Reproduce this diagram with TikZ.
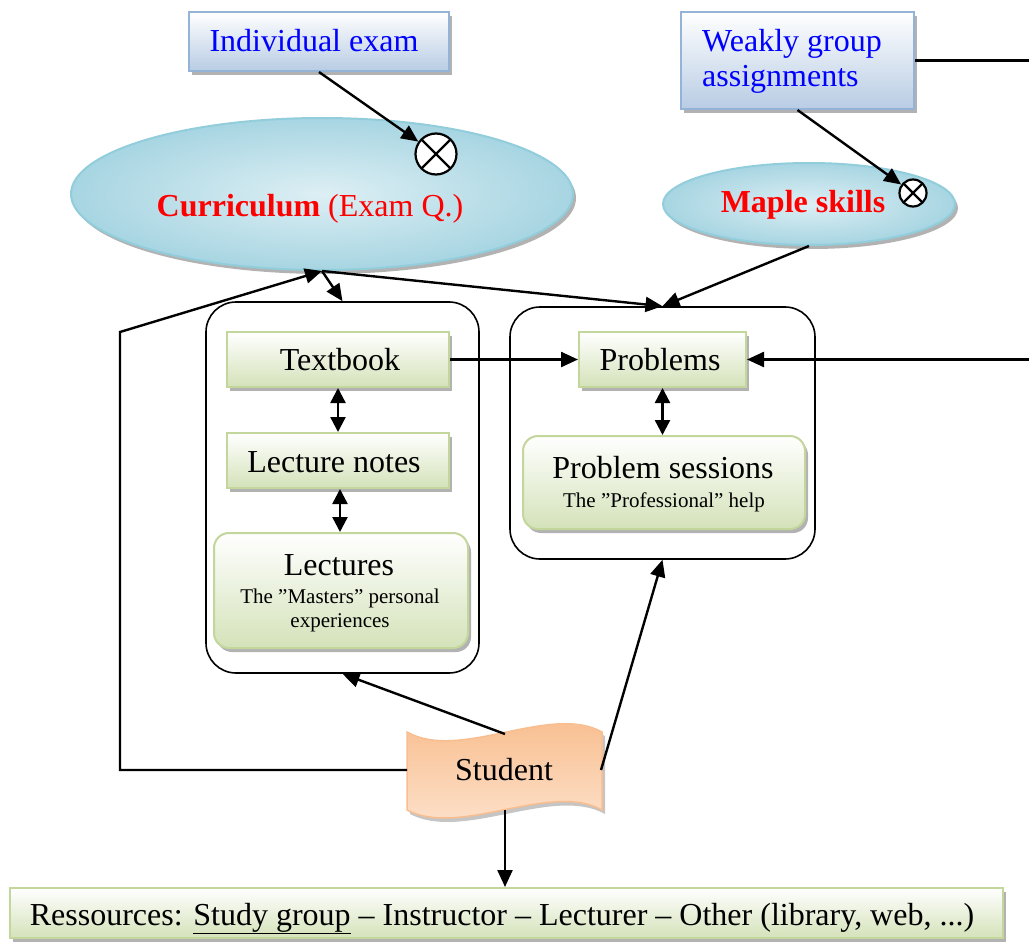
\documentclass[tikz,border=0pt]{standalone}
\usepackage{fontspec}
\setmainfont{Liberation Serif}
\usetikzlibrary{arrows.meta,shapes.geometric,shadows}
\definecolor{bluebd}{HTML}{95B3D7}
\definecolor{bluebot}{HTML}{B8CCE4}
\definecolor{ellbd}{HTML}{92CDDC}
\definecolor{ellin}{HTML}{DDEFF4}
\definecolor{ellout}{HTML}{A7D5E2}
\definecolor{grbd}{HTML}{C3D69B}
\definecolor{grbot}{HTML}{D4E2B9}
\definecolor{orbd}{HTML}{F9BE8F}
\definecolor{ortop}{HTML}{F8BA88}
\definecolor{orbot}{HTML}{FDE4D0}
\newcommand\fbig{\fontsize{32pt}{36pt}\selectfont}
\newcommand\fsmall{\fontsize{21pt}{24pt}\selectfont}
\begin{document}
\begin{tikzpicture}[x=1pt,y=-1pt,
  shad/.style={drop shadow={shadow xshift=3pt,shadow yshift=-4pt,fill=black!60,opacity=.5}},
  bluebox/.style={rectangle,draw=bluebd,line width=2pt,top color=white,bottom color=bluebot,shad,inner sep=0pt},
  greenbox/.style={rectangle,draw=grbd,line width=2pt,top color=white,bottom color=grbot,shad,inner sep=0pt},
  greenround/.style={greenbox,rounded corners=15pt},
  ell/.style={ellipse,draw=ellbd,line width=2pt,inner color=ellin,outer color=ellout,shad,inner sep=0pt},
  container/.style={rectangle,rounded corners=30pt,draw=black,line width=1.6pt,inner sep=0pt},
  txt/.style={inner sep=0pt,anchor=base,font=\fbig},
  stxt/.style={inner sep=0pt,anchor=base,font=\fsmall},
  orx/.style={circle,draw=black,line width=2.2pt,fill=white,inner sep=0pt,
    path picture={\draw[line width=2.2pt] (path picture bounding box.north west) -- (path picture bounding box.south east)
      (path picture bounding box.south west) -- (path picture bounding box.north east);}},
  conn/.style={line width=2.4pt,-{Triangle[length=17pt,width=15pt]}},
  dconn/.style={line width=2.4pt,{Triangle[length=15pt,width=15pt]}-{Triangle[length=15pt,width=15pt]}},
  plain/.style={line width=2.4pt}
]
\useasboundingbox[fill=white] (0,0) rectangle (1029,947);

% top boxes
\node[bluebox,minimum width=260pt,minimum height=59pt] (exam) at (319,41.5) {};
\node[txt,text=blue] (examt) at (314,52) {Individual exam};
\node[bluebox,minimum width=233pt,minimum height=97pt] (weak) at (797.5,60.5) {};
\node[txt,text=blue,anchor=base west] (weakt1) at (702,52) {Weakly group};
\node[txt,text=blue,anchor=base west] (weakt2) at (702,87) {assignments};

% ellipses
\node[ell,minimum width=502pt,minimum height=152pt] (curr) at (322,194) {};
\node[txt,text=red] (currt) at (310,217) {\textbf{Curriculum} (Exam Q.)};
\node[ell,minimum width=292pt,minimum height=82pt] (maple) at (809,204) {};
\node[txt,text=red] (maplet) at (803,212) {\textbf{Maple skills}};
\node[orx,minimum size=41pt] (ox1) at (436,154) {};
\node[orx,minimum size=27pt] (ox2) at (913,193) {};

% containers
\node[container,minimum width=273pt,minimum height=371pt] (leftc) at (342.5,487.5) {};
\node[container,minimum width=305pt,minimum height=252pt] (rightc) at (662.5,433) {};

% inner boxes
\node[greenbox,minimum width=222pt,minimum height=55pt] (textbook) at (338,359.5) {};
\node[txt] (textbookt) at (340,370) {Textbook};
\node[greenbox,minimum width=222pt,minimum height=55pt] (notes) at (338,460.5) {};
\node[txt] (notest) at (334,472) {Lecture notes};
\node[greenround,minimum width=254pt,minimum height=115pt] (lect) at (341,590.5) {};
\node[txt] (lectt) at (339,575) {Lectures};
\node[stxt] (lects1) at (340,603) {The ”Masters” personal};
\node[stxt] (lects2) at (340,627) {experiences};
\node[greenbox,minimum width=167pt,minimum height=55pt] (probs) at (662.5,359.5) {};
\node[txt] (probst) at (660,370) {Problems};
\node[greenround,minimum width=282pt,minimum height=93pt] (psess) at (664,482.5) {};
\node[txt] (psesst) at (663,478) {Problem sessions};
\node[stxt] (psesss) at (664,507) {The ”Professional” help};

% student
\path[draw=orbd,line width=1.5pt,top color=ortop,bottom color=orbot,
  drop shadow={shadow xshift=3pt,shadow yshift=-4pt,fill=black!50,opacity=.45}]
  (407,732) .. controls (460,762) and (550,703) .. (602,732) -- (602,810)
  .. controls (550,781) and (460,838) .. (407,810) -- cycle;
\node[txt] (student) at (504,780) {Student};
\coordinate (stop) at (505,734);
\coordinate (swest) at (407,770);
\coordinate (seast) at (601,770);
\coordinate (sbot) at (505,810);

% resources
\node[greenbox,minimum width=993pt,minimum height=50pt] (ress) at (506.5,913) {};
\node[txt] (resst) at (502,925) {Ressources: \underline{Study group} – Instructor – Lecturer – Other (library, web, ...)};

% connectors
\draw[conn] (exam.south) -- (ox1);
\draw[conn] (weak.south) -- (ox2);
\coordinate (redge1) at (1029,60.5);
\coordinate (redge2) at (1029,359.5);
\draw[plain] (weak.east) -- (redge1);
\draw[conn] (redge2) -- (probs.east);
\draw[conn] (curr.south) -- (leftc.north);
\draw[conn] (curr.south) -- (rightc.north);
\draw[conn] (maple.south) -- (rightc.north);
\draw[conn] (textbook.east) -- (probs.west);
\draw[dconn] (textbook.south) -- (notes.north);
\draw[dconn] ([xshift=2pt]notes.south) -- ([xshift=2pt]notes.south |- lect.north);
\draw[dconn] (probs.south) -- (probs.south |- psess.north);
\coordinate (lc1) at (120,770);
\coordinate (lc2) at (120,332);
\draw[conn] (swest) -- (lc1) -- (lc2) -- (curr.south);
\draw[conn] (stop) -- (leftc.south);
\draw[conn] (seast) -- (rightc.south);
\draw[conn] (sbot) -- (sbot |- ress.north);
\end{tikzpicture}
\end{document}
